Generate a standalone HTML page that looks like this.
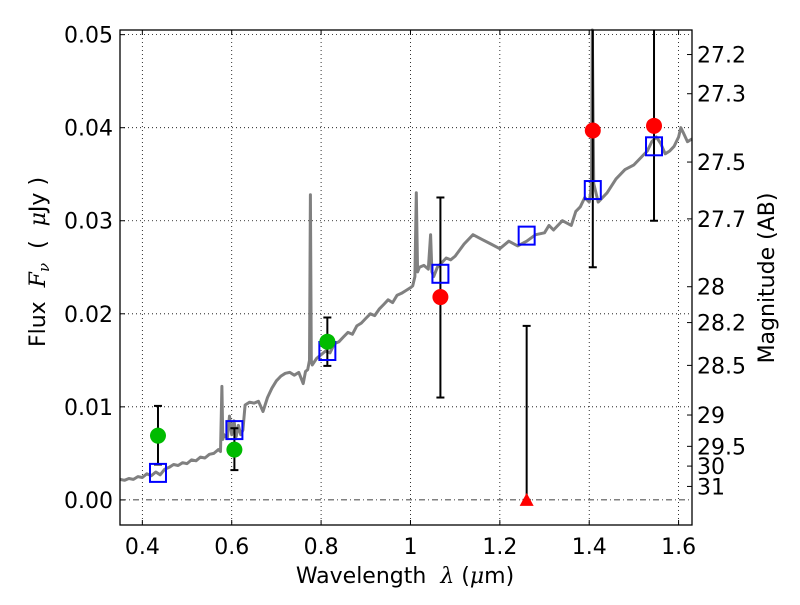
<!DOCTYPE html>
<html><head><meta charset="utf-8"><style>
body{margin:0;background:#fff}
svg{font-family:"DejaVu Sans","Liberation Sans",sans-serif}
</style></head><body>
<svg id="chart" width="800" height="600" xmlns="http://www.w3.org/2000/svg">
<rect width="800" height="600" fill="#fff"/>
<g id="grid"></g>
<g id="spec"></g>
<g id="marks"></g>
<rect x="120" y="30" width="572" height="495" fill="none" stroke="#000" stroke-width="1.3"/>
<g id="axes"></g>
<text x="405" y="583" font-size="22" text-anchor="middle" xml:space="preserve">Wavelength  <tspan font-style="italic" font-family="DejaVu Serif,serif">λ</tspan> (<tspan font-style="italic" font-family="DejaVu Serif,serif">μ</tspan>m)</text>
<text transform="translate(45,262) rotate(-90)" font-size="22" text-anchor="middle" xml:space="preserve">Flux  <tspan font-style="italic" font-family="DejaVu Serif,serif">F</tspan><tspan font-style="italic" font-size="15" dy="4" font-family="DejaVu Serif,serif">ν</tspan><tspan dy="-4">  (  </tspan><tspan font-style="italic" font-family="DejaVu Serif,serif">μ</tspan>Jy )</text>
<text transform="translate(774,278) rotate(-90)" font-size="22" text-anchor="middle">Magnitude (AB)</text>
</svg>
<script>
const xTicks=[0.4,0.6,0.8,1.0,1.2,1.4,1.6];
const xTickLabels=["0.4","0.6","0.8","1","1.2","1.4","1.6"];
const yTicks=[0,0.01,0.02,0.03,0.04,0.05];
const yTickLabels=["0.00","0.01","0.02","0.03","0.04","0.05"];
const magTicks=[27.2,27.3,27.5,27.7,28,28.2,28.5,29,29.5,30,31];
const magLabels=["27.2","27.3","27.5","27.7","28","28.2","28.5","29","29.5","30","31"];
const bandWl=[0.435,0.606,0.814,1.067,1.26,1.408,1.545];
const modelFlux=[0.0029,0.0075,0.0160,0.0243,0.0284,0.0333,0.0380];
const greenWl=[0.435,0.606,0.814];
const greenFlux=[0.0069,0.0054,0.0170];
const greenLo=[0.0038,0.0032,0.0144];
const greenHi=[0.0101,0.0077,0.0196];
const redWl=[1.067,1.408,1.545];
const redFlux=[0.0218,0.0397,0.0402];
const redLo=[0.0110,0.0250,0.0300];
const redHi=[0.0325,0.0600,0.0600];
const limWl=[1.26];
const limFlux=[0.0];
const limHi=[0.0187];
const specWl=[0.35,0.36,0.37,0.38,0.39,0.40,0.41,0.42,0.43,0.44,0.45,0.46,0.47,0.48,0.49,0.50,0.51,0.52,0.53,0.54,0.55,0.56,0.57,0.575,0.578,0.58,0.583,0.59,0.595,0.60,0.605,0.61,0.615,0.62,0.625,0.63,0.64,0.65,0.66,0.67,0.68,0.69,0.70,0.71,0.72,0.73,0.74,0.75,0.76,0.765,0.77,0.774,0.776,0.778,0.78,0.79,0.80,0.81,0.82,0.83,0.84,0.85,0.86,0.87,0.88,0.89,0.90,0.91,0.92,0.93,0.94,0.95,0.96,0.97,0.98,0.99,1.0,1.005,1.01,1.013,1.016,1.02,1.03,1.04,1.045,1.048,1.052,1.06,1.07,1.08,1.09,1.10,1.12,1.14,1.16,1.18,1.20,1.22,1.24,1.26,1.28,1.30,1.31,1.32,1.34,1.36,1.37,1.38,1.39,1.40,1.403,1.405,1.407,1.41,1.42,1.44,1.46,1.48,1.50,1.52,1.53,1.54,1.55,1.56,1.57,1.58,1.59,1.60,1.605,1.61,1.62,1.63];
const specFlux=[0.0022,0.0021,0.0023,0.0022,0.0025,0.0024,0.0028,0.0026,0.0030,0.0027,0.0033,0.0035,0.0038,0.0037,0.0040,0.0039,0.0043,0.0042,0.0046,0.0045,0.0049,0.0050,0.0054,0.0052,0.0122,0.0065,0.0070,0.0066,0.0090,0.0070,0.0085,0.0068,0.0080,0.0070,0.0075,0.0102,0.0105,0.0104,0.0106,0.0095,0.0110,0.0120,0.0128,0.0133,0.0136,0.0137,0.0134,0.0137,0.0125,0.0138,0.0140,0.0150,0.0328,0.0150,0.0145,0.0152,0.0156,0.0160,0.0158,0.0168,0.0170,0.0175,0.0180,0.0178,0.0187,0.0190,0.0195,0.0200,0.0198,0.0205,0.0210,0.0215,0.0212,0.0220,0.0222,0.0225,0.0228,0.0230,0.0240,0.0330,0.0245,0.0250,0.0252,0.0248,0.0285,0.0245,0.0240,0.0250,0.0255,0.0260,0.0258,0.0262,0.0275,0.0285,0.0280,0.0275,0.0270,0.0278,0.0273,0.0278,0.0285,0.0287,0.0295,0.0290,0.0300,0.0295,0.0310,0.0315,0.0325,0.0320,0.0330,0.0345,0.0600,0.0340,0.0320,0.0330,0.0345,0.0355,0.0360,0.0370,0.0375,0.0385,0.0390,0.0383,0.0372,0.0375,0.0380,0.0390,0.0400,0.0395,0.0385,0.0388];
const X0=120,X1=692,Y0=30,Y1=525,XMIN=0.35,XMAX=1.63,YMIN=-0.0027,YMAX=0.0505;
function sx(v){return X0+(v-XMIN)/(XMAX-XMIN)*(X1-X0);}
function sy(v){return Y1-(v-YMIN)/(YMAX-YMIN)*(Y1-Y0);}
function clipY(v){return Math.max(Y0,Math.min(Y1,sy(v)));}
const NS="http://www.w3.org/2000/svg";
function mk(tag,attrs,parent){const e=document.createElementNS(NS,tag);for(const k in attrs)e.setAttribute(k,attrs[k]);parent.appendChild(e);return e;}
const grid=document.getElementById('grid'),axes=document.getElementById('axes'),spec=document.getElementById('spec'),marks=document.getElementById('marks');
xTicks.forEach((t,i)=>{const x=sx(t);
 let g=mk('line',{x1:x,x2:x,y1:Y0,y2:Y1,stroke:'#000','stroke-width':0.8,'stroke-dasharray':'1,3'},grid);
 
 let a=mk('line',{x1:x,x2:x,y1:Y1,y2:Y1-5,stroke:'#000'},axes);
 let b=mk('line',{x1:x,x2:x,y1:Y0,y2:Y0+5,stroke:'#000'},axes);
 let l=mk('text',{x:x,y:554,'font-size':22,'text-anchor':'middle'},axes);l.textContent=xTickLabels[i];
 });
yTicks.forEach((t,i)=>{const y=sy(t);
 let g=mk('line',{x1:X0,x2:X1,y1:y,y2:y,stroke:'#000','stroke-width':0.8,'stroke-dasharray':t===0?'6,3,1,3':'1,3'},grid);
 
 let a=mk('line',{x1:X0,x2:X0+5,y1:y,y2:y,stroke:'#000'},axes);
 let l=mk('text',{x:113,y:y+8,'font-size':22,'text-anchor':'end'},axes);l.textContent=yTickLabels[i];
 });
magTicks.forEach((m,i)=>{const f=Math.pow(10,(23.9-m)/2.5);const y=sy(f);
 let a=mk('line',{x1:X1,x2:X1-5,y1:y,y2:y,stroke:'#000'},axes);
 let l=mk('text',{x:697,y:y+8,'font-size':22},axes);l.textContent=magLabels[i];
 });
let pts=specWl.map((w,i)=>sx(w).toFixed(1)+','+clipY(specFlux[i]).toFixed(1)).join(' ');
let pl=mk('polyline',{points:pts,fill:'none',stroke:'#808080','stroke-width':3,'stroke-linejoin':'round'},spec);

function errbar(w,lo,hi){const x=sx(w),y1=clipY(lo),y2=clipY(hi);
 let e=mk('line',{x1:x,x2:x,y1:y1,y2:y2,stroke:'#000','stroke-width':2},marks);
 [[lo,y1],[hi,y2]].forEach(([v,y])=>{if(sy(v)>=Y0){let c=mk('line',{x1:x-4,x2:x+4,y1:y,y2:y,stroke:'#000','stroke-width':2},marks);}});}
greenWl.forEach((w,i)=>{errbar(w,greenLo[i],greenHi[i]);});
redWl.forEach((w,i)=>{errbar(w,redLo[i],redHi[i]);});
limWl.forEach((w,i)=>{errbar(w,limFlux[i],limHi[i]);});
bandWl.forEach((w,i)=>{const x=sx(w),y=sy(modelFlux[i]);
 let r=mk('rect',{x:x-8,y:y-9,width:16,height:18,fill:'none',stroke:'#0000ff','stroke-width':2},marks);
 });
greenWl.forEach((w,i)=>{let c=mk('circle',{cx:sx(w),cy:sy(greenFlux[i]),r:8,fill:'#00bb00'},marks);
 });
redWl.forEach((w,i)=>{let c=mk('circle',{cx:sx(w),cy:sy(redFlux[i]),r:8,fill:'#ff0000'},marks);
 });
limWl.forEach((w,i)=>{const x=sx(w),y=sy(limFlux[i]);
 let t=mk('polygon',{points:`${x-7},${y+6} ${x+7},${y+6} ${x},${y-7}`,fill:'#ff0000'},marks);
 });
</script>
</body></html>
